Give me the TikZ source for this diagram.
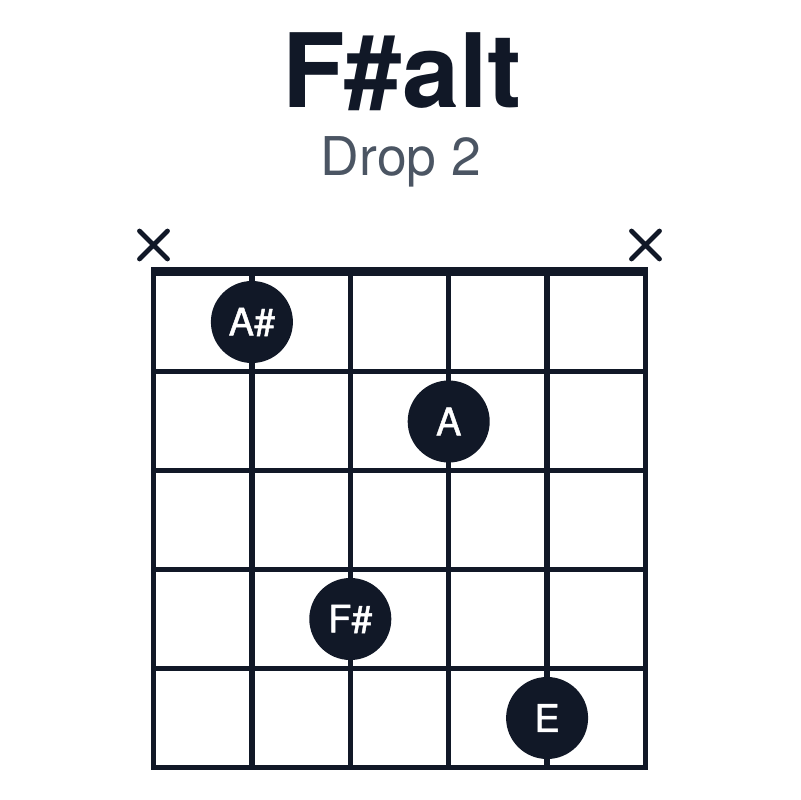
\documentclass[tikz,border=0pt]{standalone}
\usepackage{fontspec}
\setmainfont{TeX Gyre Heros}
\newfontfamily\dotfont[FakeBold=1.2]{TeX Gyre Heros}
\definecolor{ink}{HTML}{111827}
\definecolor{subgray}{HTML}{4B5563}

\begin{document}
\begin{tikzpicture}[x=0.025cm,y=-0.025cm,
    fret/.style={ink,line width=0.135cm},
    fingerdot/.style={circle,fill=ink,minimum size=2.05cm,inner sep=0pt,
        text=white,font=\dotfont\fontsize{27}{27}\selectfont}]
    \useasboundingbox[fill=white] (0,0) rectangle (800,800);
    % title
    \node [anchor=base,text=ink,font=\fontsize{73}{73}\selectfont\bfseries]
        (title) at (402,108) {F\#alt};
    \node [anchor=base,text=subgray,font=\fontsize{38}{38}\selectfont]
        (subtitle) at (401,176) {Drop 2};
    % strings and frets
    \foreach \s in {0,...,5}
        \draw[fret] (153.5+98.4*\s,271) -- (153.5+98.4*\s,770);
    \foreach \f in {1,...,5}
        \draw[fret] (151,272.5+99*\f) -- (648,272.5+99*\f);
    \draw[ink,line width=0.225cm] (151,271.5) -- (648,271.5);
    % muted strings
    \draw[ink,line width=0.12cm,line cap=round]
        (139.5,231) -- (167.5,259) (139.5,259) -- (167.5,231);
    \draw[ink,line width=0.12cm,line cap=round]
        (631.5,231) -- (659.5,259) (631.5,259) -- (659.5,231);
    % fingers
    \node [fingerdot] (asharp) at (251.9,322) {A\#};
    \node [fingerdot] (a) at (448.7,421.5) {A};
    \node [fingerdot] (fsharp) at (350.3,619) {F\#};
    \node [fingerdot] (e) at (547.1,718) {E};
\end{tikzpicture}
\end{document}
